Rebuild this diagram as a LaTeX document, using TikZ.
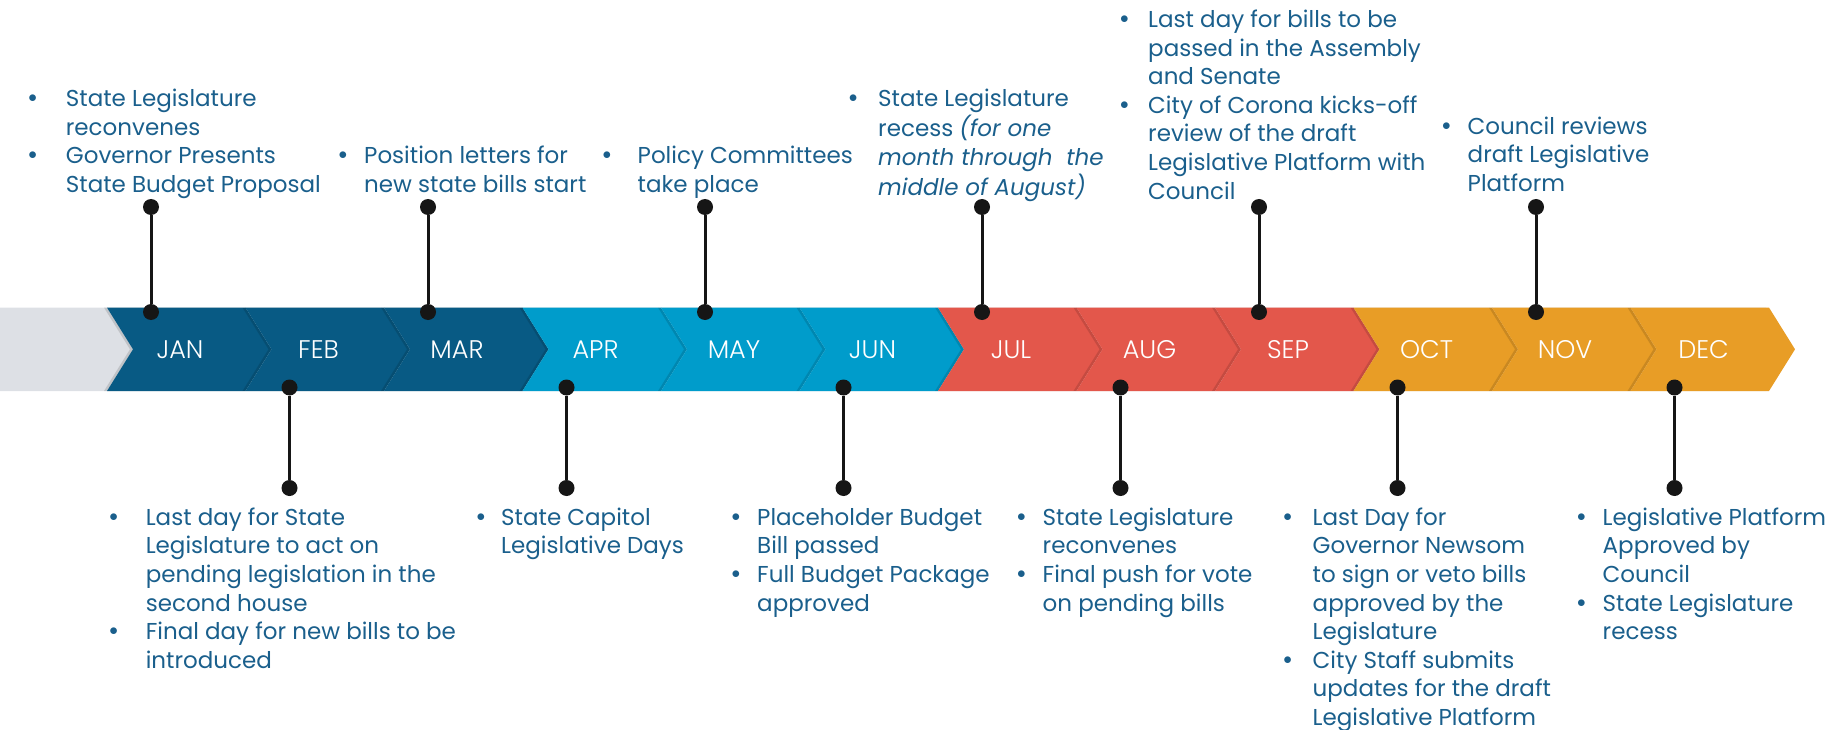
\documentclass[tikz,border=0pt]{standalone}
\usepackage{fontspec}
\setmainfont{Poppins}
\IfFontExistsTF{Poppins Light}{\newfontfamily\monfont{Poppins Light}}{\newfontfamily\monfont{Poppins}}
\definecolor{cGrey}{HTML}{DDE0E5}
\definecolor{cDark}{HTML}{085A84}
\definecolor{cLight}{HTML}{009CCB}
\definecolor{cRed}{HTML}{E3574B}
\definecolor{cOrange}{HTML}{E89D26}
\definecolor{txtc}{HTML}{1A5F8C}
\definecolor{dotc}{HTML}{161616}
\newcommand\bu[1]{\makebox[0pt][r]{\raisebox{3.7pt}{\fontsize{16}{16}\selectfont$\bullet$}\hspace{#1pt}}}
\tikzset{
  dotnode/.style={circle, fill=dotc, inner sep=0pt, minimum size=16pt},
  stem/.style={draw=dotc, line width=3pt},
  txt/.style={anchor=base west, inner sep=0pt, text=txtc, font=\fontsize{23}{28.6}\selectfont},
  mon/.style={text=white, font=\monfont\fontsize{25.5}{30}\selectfont, inner sep=0pt},
}
\begin{document}
\begin{tikzpicture}[x=1pt,y=-1pt]
\useasboundingbox (0,0) rectangle (1841,730);
\def\T{307.6}\def\B{391}\def\M{349.3}\def\d{26}\def\P{138.5}
% grey start
\fill[cGrey] (0,\T) -- (107,\T) -- (133,\M) -- (107,\B) -- (0,\B) -- cycle;
% chevrons
\foreach \i/\c in {0/cDark,1/cDark,2/cDark,3/cLight,4/cLight,5/cLight,6/cRed,7/cRed,8/cRed,9/cOrange,10/cOrange,11/cOrange}{
  \pgfmathsetmacro\xs{107+\i*\P}
  \pgfmathsetmacro\xe{\xs+\P}
  \fill[black,opacity=0.13] (\xs-3,\T) -- (\xe-3,\T) -- (\xe+\d-3,\M) -- (\xe-3,\B) -- (\xs-3,\B) -- (\xs+\d-3,\M) -- cycle;
  \fill[\c] (\xs,\T) -- (\xe,\T) -- (\xe+\d,\M) -- (\xe,\B) -- (\xs,\B) -- (\xs+\d,\M) -- cycle;
}
% month labels
\node[mon] (jan) at (180,\M) {JAN};
\node[mon] (feb) at (180+1*\P,\M) {FEB};
\node[mon] (mar) at (180+2*\P,\M) {MAR};
\node[mon] (apr) at (180+3*\P,\M) {APR};
\node[mon] (may) at (180+4*\P,\M) {MAY};
\node[mon] (jun) at (180+5*\P,\M) {JUN};
\node[mon] (jul) at (180+6*\P,\M) {JUL};
\node[mon] (aug) at (180+7*\P,\M) {AUG};
\node[mon] (sep) at (180+8*\P,\M) {SEP};
\node[mon] (oct) at (180+9*\P,\M) {OCT};
\node[mon] (nov) at (180+10*\P,\M) {NOV};
\node[mon] (dec) at (180+11*\P,\M) {DEC};
% stems up
\foreach \n/\i in {ja/0,ma/2,my/4,jl/6,se/8,no/10}{
  \node[dotnode] (\n t) at (151+\i*\P,207) {};
  \node[dotnode] (\n b) at (151+\i*\P,312) {};
  \draw[stem] (\n t) -- (\n b);
}
% stems down
\foreach \n/\i in {fe/1,ap/3,jn/5,au/7,oc/9,de/11}{
  \node[dotnode] (\n t) at (151+\i*\P,387.5) {};
  \node[dotnode] (\n b) at (151+\i*\P,488) {};
  \draw[stem] (\n t) -- (\n b);
}
% texts top
\node[txt] (tjan) at (65.7,106.5) {\begin{tabular}[t]{@{}l@{}}\bu{29}State Legislature\\ reconvenes\\ \bu{29}Governor Presents\\ State Budget Proposal\end{tabular}};
\node[txt] (tmar) at (364,163.5) {\begin{tabular}[t]{@{}l@{}}\bu{17}Position letters for\\ new state bills start\end{tabular}};
\node[txt] (tmay) at (637.5,163.5) {\begin{tabular}[t]{@{}l@{}}\bu{26.5}Policy Committees\\ take place\end{tabular}};
\node[txt] (tjul) at (878,106.5) {\begin{tabular}[t]{@{}l@{}}\bu{20.7}State Legislature\\ recess \textit{(for one}\\ \textit{month through~~the}\\ \textit{middle of August)}\end{tabular}};
\node[txt] (tsep) at (1148,27.5) {\begin{tabular}[t]{@{}l@{}}\bu{19.5}Last day for bills to be\\ passed in the Assembly\\ and Senate\\ \bu{19.5}City of Corona kicks-off\\ review of the draft\\ Legislative Platform with\\ Council\end{tabular}};
\node[txt] (tnov) at (1467.5,134.3) {\begin{tabular}[t]{@{}l@{}}\bu{17}Council reviews\\ draft Legislative\\ Platform\end{tabular}};
% texts bottom
\node[txt] (tfeb) at (145.6,525.2) {\begin{tabular}[t]{@{}l@{}}\bu{27.7}Last day for State\\ Legislature to act on\\ pending legislation in the\\ second house\\ \bu{27.7}Final day for new bills to be\\ introduced\end{tabular}};
\node[txt] (tapr) at (501,525.2) {\begin{tabular}[t]{@{}l@{}}\bu{16}State Capitol\\ Legislative Days\end{tabular}};
\node[txt] (tjun) at (757,525.2) {\begin{tabular}[t]{@{}l@{}}\bu{17}Placeholder Budget\\ Bill passed\\ \bu{17}Full Budget Package\\ approved\end{tabular}};
\node[txt] (taug) at (1042.5,525.2) {\begin{tabular}[t]{@{}l@{}}\bu{17}State Legislature\\ reconvenes\\ \bu{17}Final push for vote\\ on pending bills\end{tabular}};
\node[txt] (toct) at (1312.5,525.2) {\begin{tabular}[t]{@{}l@{}}\bu{20.7}Last Day for\\ Governor Newsom\\ to sign or veto bills\\ approved by the\\ Legislature\\ \bu{20.7}City Staff submits\\ updates for the draft\\ Legislative Platform\end{tabular}};
\node[txt] (tdec) at (1602.5,525.2) {\begin{tabular}[t]{@{}l@{}}\bu{17}Legislative Platform\\ Approved by\\ Council\\ \bu{17}State Legislature\\ recess\end{tabular}};
\end{tikzpicture}
\end{document}
